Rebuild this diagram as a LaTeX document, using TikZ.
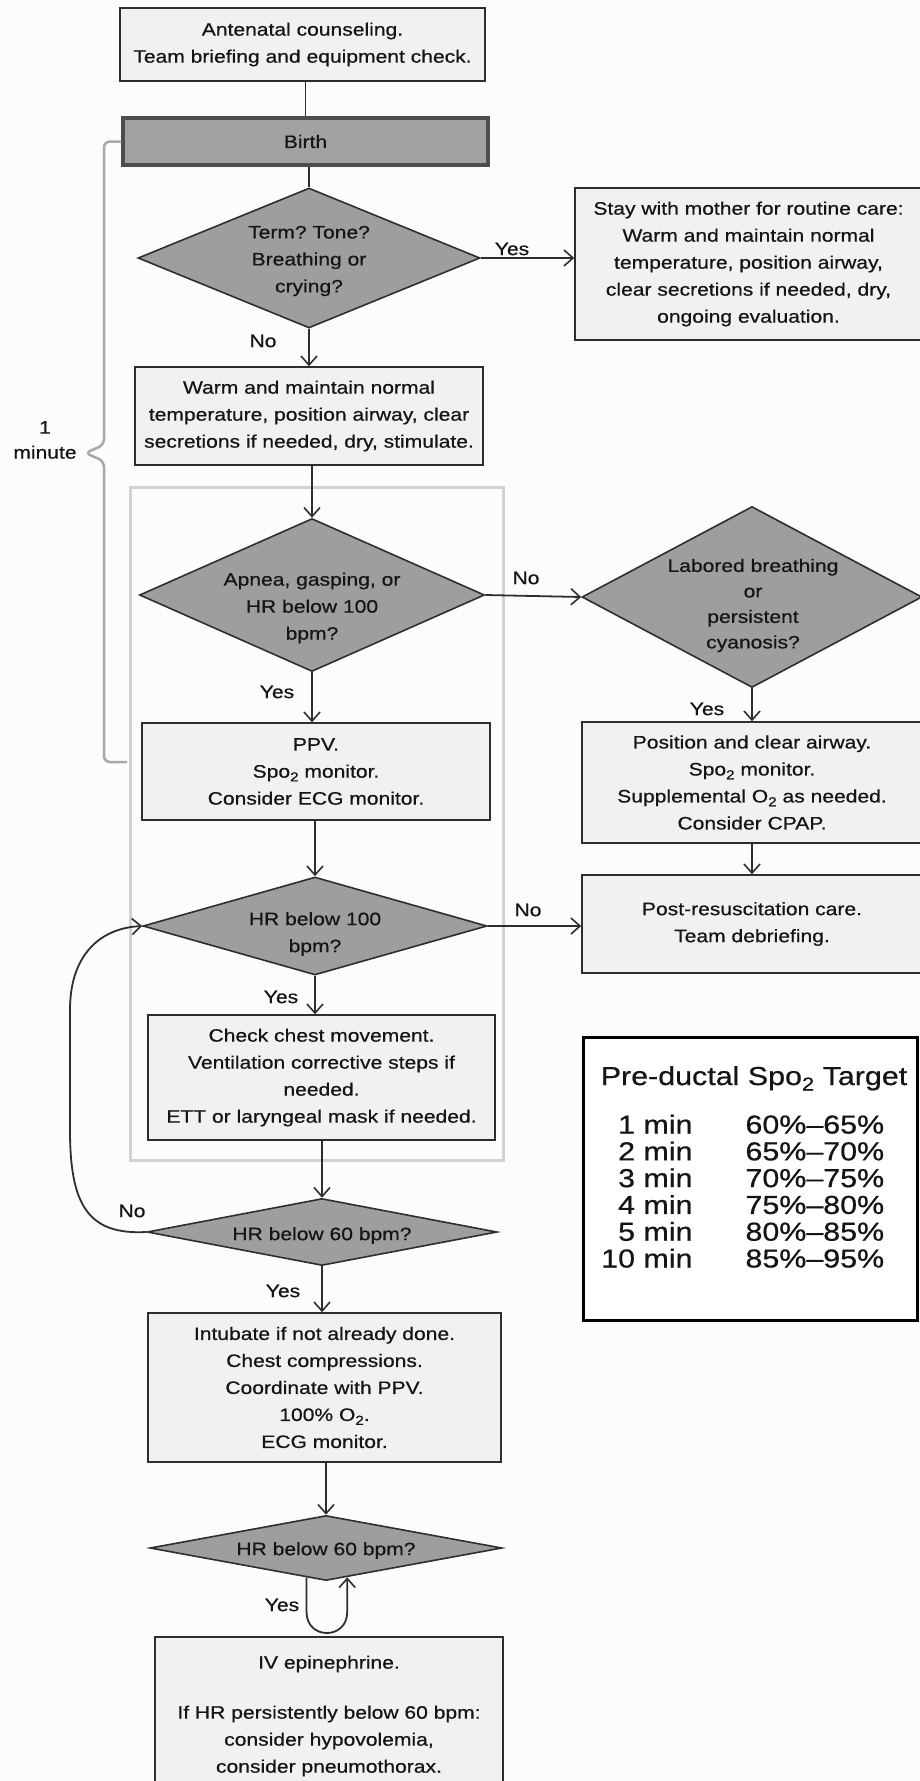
\documentclass[tikz,border=0pt]{standalone}
\usepackage{fontspec}
\usepackage{graphicx}
\setmainfont[FakeStretch=1.17,FakeBold=0.6]{Liberation Sans}
\usetikzlibrary{shapes.geometric,arrows.meta,calc}
\definecolor{edge}{HTML}{2E2E2E}
\definecolor{boxfill}{HTML}{F1F1F1}
\definecolor{diafill}{HTML}{9E9E9E}
\definecolor{birthfill}{HTML}{A2A2A2}
\definecolor{framec}{HTML}{D2D2D2}
\definecolor{bracec}{HTML}{A8A8A8}
\definecolor{txt}{HTML}{151515}
\definecolor{paper}{HTML}{FCFCFC}
\newcommand\subtwo{\raisebox{-0.4ex}{\scalebox{0.72}{2}}}
\frenchspacing
\begin{document}
\begin{tikzpicture}[x=1pt,y=-1pt,
 every node/.style={font=\fontsize{18}{27}\selectfont, text=txt},
 box/.style={draw=edge, fill=boxfill, line width=1.6pt, align=center, inner sep=0pt},
 dia/.style={diamond, draw=edge, fill=diafill, line width=1.6pt, inner sep=0pt},
 lbl/.style={align=center, inner sep=0pt},
 arr/.style={draw=edge, line width=1.8pt, -{Straight Barb[length=9pt,width=16pt,line width=1.6pt]}},
 ln/.style={draw=edge, line width=1.8pt},
 grp/.style={draw=framec, line width=3pt, inner sep=0pt},
 brc/.style={draw=bracec, line width=2.5pt, rounded corners=6pt},
]
\fill[paper] (0,0) rectangle (920,1781);
\useasboundingbox (0,0) rectangle (920,1781);

% group frame
\node[grp, minimum width=373pt, minimum height=673pt] (frame) at (316.5,823.5) {};

% boxes
\node[box, minimum width=365pt, minimum height=73pt] (b0) at (302.5,44.5)
  {Antenatal counseling.\\Team briefing and equipment check.};
\node[box, fill=birthfill, draw=edge!85!white, line width=3.5pt, minimum width=365pt, minimum height=47pt] (birth) at (305.5,141.5) {Birth};
\node[box, minimum width=347pt, minimum height=152pt] (stay) at (748.5,264)
  {Stay with mother for routine care:\\Warm and maintain normal\\temperature, position airway,\\clear secretions if needed, dry,\\ongoing evaluation.};
\node[box, minimum width=348pt, minimum height=98pt] (b3) at (309,416)
  {Warm and maintain normal\\temperature, position airway, clear\\secretions if needed, dry, stimulate.};
\node[box, minimum width=348pt, minimum height=97pt] (ppv) at (316,771.5)
  {PPV.\\Spo\subtwo{} monitor.\\Consider ECG monitor.};
\node[box, minimum width=340pt, minimum height=121pt] (b5) at (752,782.5)
  {Position and clear airway.\\Spo\subtwo{} monitor.\\Supplemental O\subtwo{} as needed.\\Consider CPAP.};
\node[box, minimum width=340pt, minimum height=98pt] (b6) at (752,924)
  {Post-resuscitation care.\\Team debriefing.};
\node[box, minimum width=347pt, minimum height=125pt] (b7) at (321.5,1077.5)
  {Check chest movement.\\Ventilation corrective steps if\\needed.\\ETT or laryngeal mask if needed.};
\node[box, minimum width=353pt, minimum height=149pt] (b8) at (324.5,1387.5)
  {Intubate if not already done.\\Chest compressions.\\Coordinate with PPV.\\100\% O\subtwo.\\ECG monitor.};
\node[box, minimum width=348pt, minimum height=158pt] (b9) at (329,1716)
  {IV epinephrine.\\[23pt]If HR persistently below 60 bpm:\\consider hypovolemia,\\consider pneumothorax.};

% diamonds
\node[dia, minimum width=342pt, minimum height=140pt] (d1) at (309,258) {};
\node[lbl] (d1t) at (309,261) {Term? Tone?\\Breathing or\\crying?};
\node[dia, minimum width=345pt, minimum height=153pt] (d2) at (312,595) {};
\node[lbl] (d2t) at (312,608) {Apnea, gasping, or\\HR below 100\\bpm?};
\node[dia, minimum width=344pt, minimum height=98pt] (d3) at (315,926) {};
\node[lbl] (d3t) at (315,934) {HR below 100\\bpm?};
\node[dia, minimum width=340pt, minimum height=181pt] (d4) at (752,597) {};
\node[lbl, font=\fontsize{18}{25.5}\selectfont] (d4t) at (753,605.5) {Labored breathing\\or\\persistent\\cyanosis?};
\node[dia, minimum width=350pt, minimum height=67pt] (d5) at (322,1232) {};
\node[lbl] (d5t) at (322,1235.5) {HR below 60 bpm?};
\node[dia, minimum width=352pt, minimum height=65pt] (d6) at (326,1548) {};
\node[lbl] (d6t) at (326,1550.5) {HR below 60 bpm?};

% SpO2 table
\node[draw=black, line width=3pt, fill=white, minimum width=334pt, minimum height=283pt, inner sep=0pt] (tab) at (750,1178.5) {};
\node[anchor=base, inner sep=0pt] (ttl) at (754,1085)
  {\fontsize{26}{26.5}\selectfont Pre-ductal Spo\subtwo{} Target};
\node[anchor=north west, inner sep=0pt] (rows) at (601,1114.5)
  {\fontsize{26}{26.5}\selectfont\begin{tabular}{@{}r@{\hspace{53pt}}l@{}}
   1 min & 60\%–65\%\\
   2 min & 65\%–70\%\\
   3 min & 70\%–75\%\\
   4 min & 75\%–80\%\\
   5 min & 80\%–85\%\\
   10 min & 85\%–95\%
  \end{tabular}};

% one-minute brace
\coordinate (brtop) at (104,141.5);
\coordinate (brbot) at (104,762);
\coordinate (brend) at (127,762);
\draw[brc] (birth.west) -- (brtop) -- (104,445) -- (85,453) -- (104,461) -- (brbot) -- (brend);
\node[lbl, font=\fontsize{18}{25}\selectfont] (onemin) at (45,440) {1\\minute};

% connectors
\draw[ln] (b0.south -| birth.north) -- (birth.north);
\draw[ln] (birth.south -| d1.north) -- (d1.north);
\draw[arr] (d1.south) -- (b3.north);
\draw[arr] (d1.east) -- (d1.east -| stay.west);
\draw[arr] (b3.south -| d2.north) -- (d2.north);
\draw[arr] (d2.east) -- (d4.west);
\draw[arr] (d2.south) -- (d2.south |- ppv.north);
\draw[arr] (d4.south) -- (b5.north);
\draw[arr] (b5.south) -- (b6.north);
\draw[arr] (ppv.south -| d3.north) -- (d3.north);
\draw[arr] (d3.east) -- (d3.east -| b6.west);
\draw[arr] (d3.south) -- (d3.south |- b7.north);
\draw[arr] (b7.south -| d5.north) -- (d5.north);
\draw[arr] (d5.west) .. controls (88,1235) and (70,1205) .. (70,1130) -- (70,1010) .. controls (70,955) and (100,928) .. (d3.west);
\draw[arr] (d5.south) -- (d5.south |- b8.north);
\draw[arr] (b8.south -| d6.north) -- (d6.north);
\coordinate (ua) at ($(d6.south)!0.11!(d6.west)$);
\coordinate (ub) at ($(d6.south)!0.12!(d6.east)$);
\coordinate (uy) at (0,1612);
\draw[arr] (ua) -- (ua |- uy) .. controls ($(ua |- uy)+(0,28)$) and ($(ub |- uy)+(0,28)$) .. (ub |- uy) -- (ub);

% branch labels
\node[lbl] (l1) at (263,341) {No};
\node[lbl] (l2) at (512,249) {Yes};
\node[lbl] (l3) at (526,578) {No};
\node[lbl] (l4) at (277,692) {Yes};
\node[lbl] (l5) at (528,910) {No};
\node[lbl] (l6) at (707,709) {Yes};
\node[lbl] (l7) at (281,997) {Yes};
\node[lbl] (l8) at (132,1211) {No};
\node[lbl] (l9) at (283,1291) {Yes};
\node[lbl] (l10) at (282,1605) {Yes};
\end{tikzpicture}
\end{document}
